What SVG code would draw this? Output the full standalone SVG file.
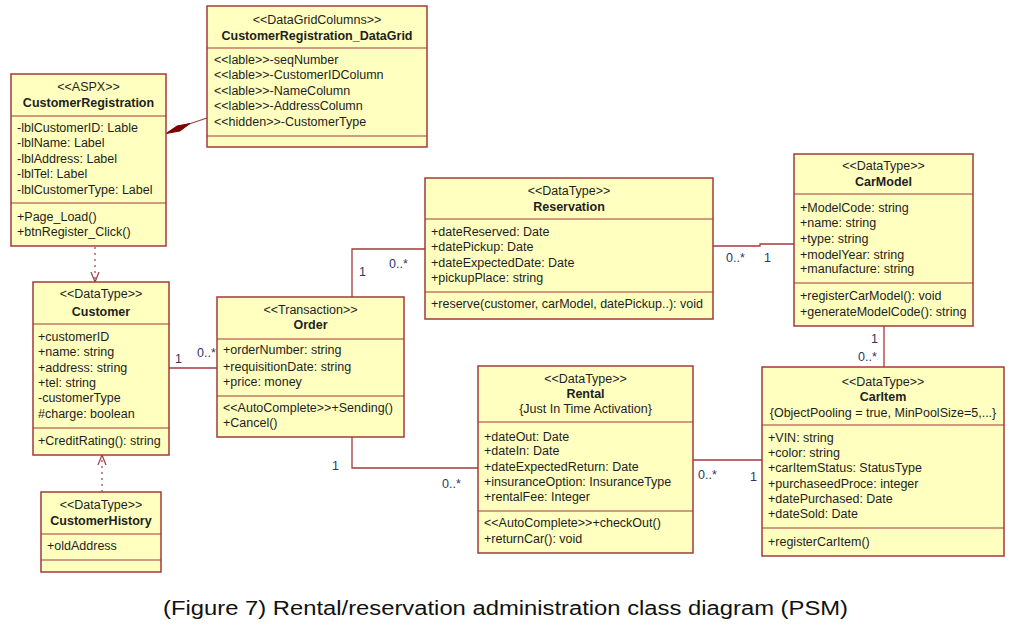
<svg xmlns="http://www.w3.org/2000/svg" width="1019" height="631" viewBox="0 0 1019 631">
<style>
.bg{fill:#ffffff}
.box{fill:#ffffc0;stroke:#a33a3a;stroke-width:1.5}
.dv{stroke:#a33a3a;stroke-width:1.2;fill:none}
.ln{stroke:#a33a3a;stroke-width:1.3;fill:none}
.dash{stroke:#a33a3a;stroke-width:1.2;fill:none;stroke-dasharray:2 4}
.t{font-family:"Liberation Sans",Arial,sans-serif;font-size:12.5px;fill:#1e1e1e}
.c{text-anchor:middle}
.b{font-weight:bold}
.m{font-family:"Liberation Sans",Arial,sans-serif;font-size:12.5px;fill:#333366}
.cap{font-family:"Liberation Sans",Arial,sans-serif;font-size:20px;fill:#111111}
</style>
<defs>
<marker id="open" viewBox="0 0 10 10" refX="10" refY="5" markerWidth="10" markerHeight="10" markerUnits="userSpaceOnUse" orient="auto">
<path d="M0,1 L10,5 L0,9" fill="none" stroke="#a33a3a" stroke-width="1.2"/>
</marker>
</defs>
<rect class="bg" x="0" y="0" width="1019" height="631"/>

<g id="connectors">
<line class="ln" x1="207" y1="118" x2="189" y2="124"/>
<polygon points="166,133.5 177,126 190,123.5 180,131" fill="#800000" stroke="#800000" stroke-width="1"/>
<line class="dash" x1="95" y1="247" x2="95" y2="282" marker-end="url(#open)"/>
<line class="dash" x1="102" y1="492" x2="102" y2="455" marker-end="url(#open)"/>
<line class="ln" x1="169" y1="368" x2="217" y2="368"/>
<polyline class="ln" points="352,297 352,249 425,249"/>
<polyline class="ln" points="713,246 760,246 760,244 794,244"/>
<line class="ln" x1="884" y1="326" x2="884" y2="367"/>
<line class="ln" x1="693" y1="460" x2="762" y2="460"/>
<polyline class="ln" points="352,437 352,468 478,468"/>
<text class="m" x="175" y="363">1</text>
<text class="m" x="197" y="357">0..*</text>
<text class="m" x="359" y="276">1</text>
<text class="m" x="389" y="268">0..*</text>
<text class="m" x="726" y="262">0..*</text>
<text class="m" x="764" y="262">1</text>
<text class="m" x="871" y="343">1</text>
<text class="m" x="858" y="361">0..*</text>
<text class="m" x="698" y="479">0..*</text>
<text class="m" x="750" y="481">1</text>
<text class="m" x="332" y="470">1</text>
<text class="m" x="442" y="488">0..*</text>
</g>

<g id="datagrid">
<rect class="box" x="207" y="6" width="220" height="141"/>
<line class="dv" x1="207" y1="48" x2="427" y2="48"/>
<line class="dv" x1="207" y1="136" x2="427" y2="136"/>
<text class="t c" x="317" y="24">&lt;&lt;DataGridColumns&gt;&gt;</text>
<text class="t c b" x="317" y="40">CustomerRegistration_DataGrid</text>
<text class="t" x="214" y="64">&lt;&lt;lable&gt;&gt;-seqNumber</text>
<text class="t" x="214" y="79">&lt;&lt;lable&gt;&gt;-CustomerIDColumn</text>
<text class="t" x="214" y="95">&lt;&lt;lable&gt;&gt;-NameColumn</text>
<text class="t" x="214" y="110">&lt;&lt;lable&gt;&gt;-AddressColumn</text>
<text class="t" x="214" y="126">&lt;&lt;hidden&gt;&gt;-CustomerType</text>
</g>

<g id="customerregistration">
<rect class="box" x="11" y="74" width="155" height="172"/>
<line class="dv" x1="11" y1="116" x2="166" y2="116"/>
<line class="dv" x1="11" y1="203" x2="166" y2="203"/>
<text class="t c" x="88.5" y="91">&lt;&lt;ASPX&gt;&gt;</text>
<text class="t c b" x="88.5" y="107">CustomerRegistration</text>
<text class="t" x="17" y="132">-lblCustomerID: Lable</text>
<text class="t" x="17" y="147">-lblName: Label</text>
<text class="t" x="17" y="163">-lblAddress: Label</text>
<text class="t" x="17" y="178">-lblTel: Label</text>
<text class="t" x="17" y="194">-lblCustomerType: Label</text>
<text class="t" x="17" y="221">+Page_Load()</text>
<text class="t" x="17" y="236">+btnRegister_Click()</text>
</g>

<g id="customer">
<rect class="box" x="33" y="282" width="136" height="173"/>
<line class="dv" x1="33" y1="324" x2="169" y2="324"/>
<line class="dv" x1="33" y1="428" x2="169" y2="428"/>
<text class="t c" x="101" y="298">&lt;&lt;DataType&gt;&gt;</text>
<text class="t c b" x="101" y="316">Customer</text>
<text class="t" x="38" y="341">+customerID</text>
<text class="t" x="38" y="356">+name: string</text>
<text class="t" x="38" y="372">+address: string</text>
<text class="t" x="38" y="387">+tel: string</text>
<text class="t" x="38" y="402">-customerType</text>
<text class="t" x="38" y="418">#charge: boolean</text>
<text class="t" x="38" y="445">+CreditRating(): string</text>
</g>

<g id="customerhistory">
<rect class="box" x="41" y="492" width="120" height="80"/>
<line class="dv" x1="41" y1="534" x2="161" y2="534"/>
<line class="dv" x1="41" y1="560" x2="161" y2="560"/>
<text class="t c" x="101" y="509">&lt;&lt;DataType&gt;&gt;</text>
<text class="t c b" x="101" y="525">CustomerHistory</text>
<text class="t" x="47" y="550">+oldAddress</text>
</g>

<g id="order">
<rect class="box" x="217" y="297" width="187" height="140"/>
<line class="dv" x1="217" y1="339" x2="404" y2="339"/>
<line class="dv" x1="217" y1="396" x2="404" y2="396"/>
<text class="t c" x="310.5" y="314">&lt;&lt;Transaction&gt;&gt;</text>
<text class="t c b" x="310.5" y="329">Order</text>
<text class="t" x="223" y="354">+orderNumber: string</text>
<text class="t" x="223" y="371">+requisitionDate: string</text>
<text class="t" x="223" y="386">+price: money</text>
<text class="t" x="223" y="412">&lt;&lt;AutoComplete&gt;&gt;+Sending()</text>
<text class="t" x="223" y="427">+Cancel()</text>
</g>

<g id="reservation">
<rect class="box" x="425" y="178" width="288" height="141"/>
<line class="dv" x1="425" y1="219" x2="713" y2="219"/>
<line class="dv" x1="425" y1="292" x2="713" y2="292"/>
<text class="t c" x="569" y="195">&lt;&lt;DataType&gt;&gt;</text>
<text class="t c b" x="569" y="211">Reservation</text>
<text class="t" x="431" y="236">+dateReserved: Date</text>
<text class="t" x="431" y="251">+datePickup: Date</text>
<text class="t" x="431" y="267">+dateExpectedDate: Date</text>
<text class="t" x="431" y="282">+pickupPlace: string</text>
<text class="t" x="431" y="308">+reserve(customer, carModel, datePickup..): void</text>
</g>

<g id="carmodel">
<rect class="box" x="794" y="154" width="179" height="172"/>
<line class="dv" x1="794" y1="194" x2="973" y2="194"/>
<line class="dv" x1="794" y1="283" x2="973" y2="283"/>
<text class="t c" x="883.5" y="170">&lt;&lt;DataType&gt;&gt;</text>
<text class="t c b" x="883.5" y="186">CarModel</text>
<text class="t" x="800" y="212">+ModelCode: string</text>
<text class="t" x="800" y="227">+name: string</text>
<text class="t" x="800" y="243">+type: string</text>
<text class="t" x="800" y="259">+modelYear: string</text>
<text class="t" x="800" y="273">+manufacture: string</text>
<text class="t" x="800" y="300">+registerCarModel(): void</text>
<text class="t" x="800" y="316">+generateModelCode(): string</text>
</g>

<g id="rental">
<rect class="box" x="478" y="366" width="215" height="187"/>
<line class="dv" x1="478" y1="422" x2="693" y2="422"/>
<line class="dv" x1="478" y1="511" x2="693" y2="511"/>
<text class="t c" x="585.5" y="383">&lt;&lt;DataType&gt;&gt;</text>
<text class="t c b" x="585.5" y="398">Rental</text>
<text class="t c" x="585.5" y="413">{Just In Time Activation}</text>
<text class="t" x="484" y="441">+dateOut: Date</text>
<text class="t" x="484" y="455">+dateIn: Date</text>
<text class="t" x="484" y="471">+dateExpectedReturn: Date</text>
<text class="t" x="484" y="486">+insuranceOption: InsuranceType</text>
<text class="t" x="484" y="501">+rentalFee: Integer</text>
<text class="t" x="484" y="527">&lt;&lt;AutoComplete&gt;&gt;+checkOut()</text>
<text class="t" x="484" y="543">+returnCar(): void</text>
</g>

<g id="caritem">
<rect class="box" x="762" y="367" width="242" height="189"/>
<line class="dv" x1="762" y1="425" x2="1004" y2="425"/>
<line class="dv" x1="762" y1="528" x2="1004" y2="528"/>
<text class="t c" x="883" y="386">&lt;&lt;DataType&gt;&gt;</text>
<text class="t c b" x="883" y="401">CarItem</text>
<text class="t c" x="883" y="417">{ObjectPooling = true, MinPoolSize=5,...}</text>
<text class="t" x="768" y="442">+VIN: string</text>
<text class="t" x="768" y="457">+color: string</text>
<text class="t" x="768" y="472">+carItemStatus: StatusType</text>
<text class="t" x="768" y="488">+purchaseedProce: integer</text>
<text class="t" x="768" y="503">+datePurchased: Date</text>
<text class="t" x="768" y="518">+dateSold: Date</text>
<text class="t" x="768" y="546">+registerCarItem()</text>
</g>

<text class="cap" x="163" y="615" textLength="685" lengthAdjust="spacingAndGlyphs">(Figure 7) Rental/reservation administration class diagram (PSM)</text>
</svg>
